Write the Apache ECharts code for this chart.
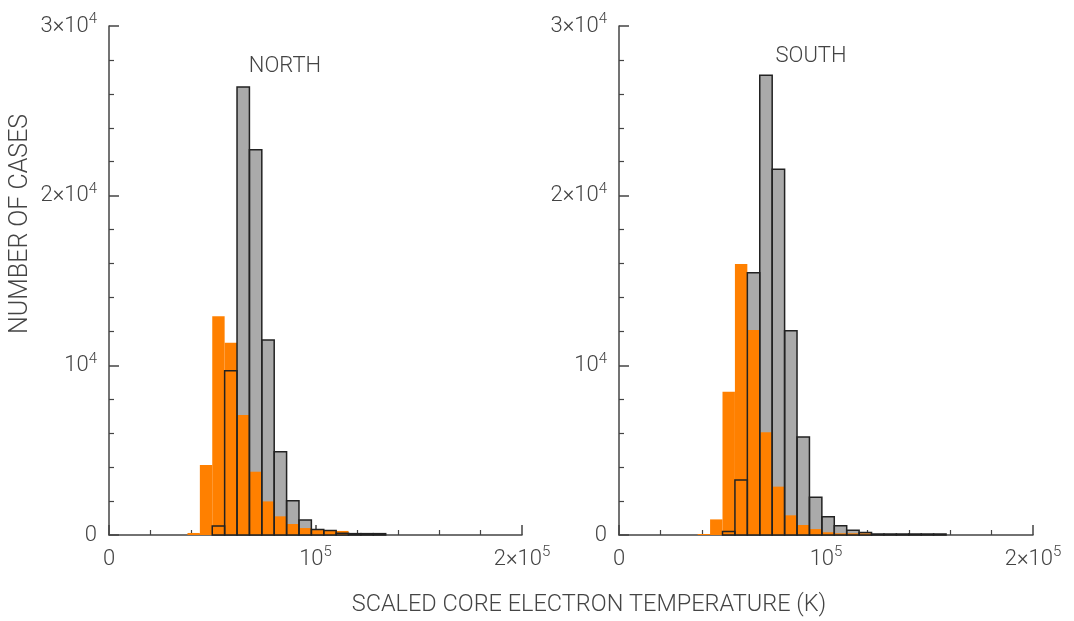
<!DOCTYPE html>
<html>
<head>
<meta charset="utf-8">
<script src="https://cdn.jsdelivr.net/npm/echarts@6/dist/echarts.min.js"></script>
<style>
  html, body { margin: 0; padding: 0; background: #fff; }
  #chart { width: 1074px; height: 621px; }
</style>
</head>
<body>
<div id="chart"></div>
<script>
// bin edges (K), 6000 K wide
var binEdges = [38000, 44000, 50000, 56000, 62000, 68000, 74000, 80000, 86000, 92000,
  98000, 104000, 110000, 116000, 122000, 128000, 134000, 140000, 146000, 152000, 158000]

// counts per bin
var northGray = [0, 0, 530, 9680, 26400, 22700, 11490, 4910, 2020, 880,
  330, 260, 100, 80, 80, 80, 0, 0, 0, 0]
var northOrange = [120, 4120, 12900, 11330, 7070, 3730, 1980, 1100, 650, 410,
  290, 290, 240, 100, 60, 60, 0, 0, 0, 0]
var southGray = [0, 0, 200, 3240, 15460, 27090, 21550, 12040, 5770, 2220,
  1080, 550, 280, 140, 60, 60, 60, 60, 60, 60]
var southOrange = [60, 920, 8450, 15970, 12080, 6050, 2850, 1160, 590, 350,
  160, 100, 100, 100, 60, 50, 50, 50, 50, 50]

var panelTitles = ['NORTH', 'SOUTH']
var yTickLabels = { 0: '{b|0}', 10000: '{b|10}{s|4}', 20000: '{b|2×10}{s|4}', 30000: '{b|3×10}{s|4}' }
var xTickLabels = { 0: '{b|0}', 100000: '{b|10}{s|5}', 200000: '{b|2×10}{s|5}' }

var FONT = 'Roboto'
var TXT = '#444'
var rich = {
  b: { fontFamily: FONT, fontWeight: 300, fontSize: 22, lineHeight: 28, color: TXT },
  s: { fontFamily: FONT, fontWeight: 300, fontSize: 15, lineHeight: 12, verticalAlign: 'top', color: TXT }
}

function toBins(counts) {
  return counts.map(function (c, i) {
    return [binEdges[i], binEdges[i + 1], c]
  })
}

function histSeries(idx, counts, fill, stroke) {
  return {
    type: 'custom',
    xAxisIndex: idx,
    yAxisIndex: idx,
    data: toBins(counts),
    renderItem: function (params, api) {
      if (!api.value(2)) return null
      var p0 = api.coord([api.value(0), 0])
      var p1 = api.coord([api.value(1), api.value(2)])
      return {
        type: 'rect',
        shape: { x: p0[0], y: p1[1], width: p1[0] - p0[0], height: p0[1] - p1[1] },
        style: { fill: fill, stroke: stroke, lineWidth: stroke ? 1.5 : 0 }
      }
    }
  }
}

var axisLine = { show: true, lineStyle: { color: '#444', width: 1.5 } }

function xAxis(idx) {
  return {
    type: 'value', gridIndex: idx, min: 0, max: 200000, interval: 100000,
    axisLine: axisLine,
    axisTick: { show: true, inside: true, length: 10, lineStyle: { color: '#444', width: 1.5 } },
    minorTick: { show: true, splitNumber: 5, length: 5, lineStyle: { color: '#444', width: 1.2 } },
    splitLine: { show: false },
    axisLabel: { margin: 10, formatter: function (v) { return xTickLabels[v] || '' }, rich: rich }
  }
}

function yAxis(idx) {
  return {
    type: 'value', gridIndex: idx, min: 0, max: 30000, interval: 10000,
    axisLine: axisLine,
    axisTick: { show: true, inside: true, length: 10, lineStyle: { color: '#444', width: 1.5 } },
    minorTick: { show: true, splitNumber: 5, length: 5, lineStyle: { color: '#444', width: 1.2 } },
    splitLine: { show: false },
    axisLabel: { margin: 12, formatter: function (v) { return yTickLabels[v] || '' }, rich: rich }
  }
}

var chart = echarts.init(document.getElementById('chart'), null, { renderer: 'canvas' })
var option = {
  animation: false,
  backgroundColor: '#fff',
  grid: [
    { left: 109, top: 26, width: 413, height: 509 },
    { left: 619, top: 26, width: 414, height: 509 }
  ],
  xAxis: [xAxis(0), xAxis(1)],
  yAxis: [yAxis(0), yAxis(1)],
  title: [
    { text: panelTitles[0], left: 280, top: 50, textAlign: 'center',
      textStyle: { fontFamily: FONT, fontWeight: 300, fontSize: 22, color: TXT } },
    { text: panelTitles[1], left: 806, top: 40, textAlign: 'center',
      textStyle: { fontFamily: FONT, fontWeight: 300, fontSize: 22, color: TXT } }
  ],
  graphic: [
    { type: 'text', x: 589, y: 593,
      style: { text: 'SCALED CORE ELECTRON TEMPERATURE (K)', font: '300 23.5px ' + FONT, fill: TXT, align: 'center' } },
    { type: 'text', x: 8, y: 334, rotation: Math.PI / 2,
      style: { text: 'NUMBER OF CASES', font: '300 25px ' + FONT, fill: TXT } }
  ],
  series: [
    histSeries(0, northGray, '#aaaaaa', null),
    histSeries(0, northOrange, '#ff8000', null),
    histSeries(0, northGray, 'none', '#222'),
    histSeries(1, southGray, '#aaaaaa', null),
    histSeries(1, southOrange, '#ff8000', null),
    histSeries(1, southGray, 'none', '#222')
  ]
}
option && chart.setOption(option)
</script>
</body>
</html>
